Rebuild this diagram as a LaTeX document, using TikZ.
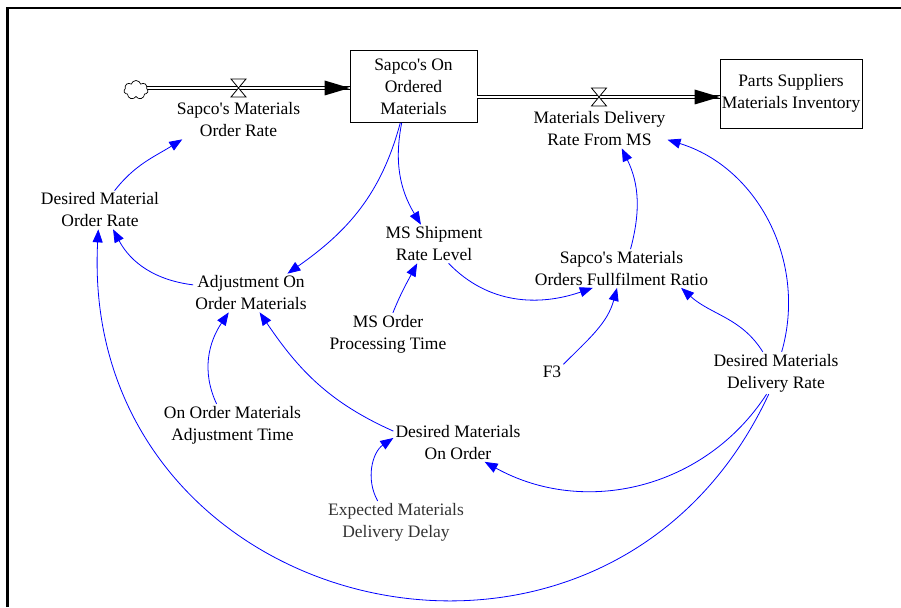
\documentclass[tikz,border=0pt]{standalone}
\usepackage{fontspec}
\setmainfont{Liberation Serif}
\usetikzlibrary{arrows.meta,shapes.symbols}
\begin{document}
\begin{tikzpicture}[x=1pt,y=1pt,
 lbl/.style={align=center, font=\fontsize{17.5}{22}\selectfont, inner sep=2pt},
 stock/.style={draw, line width=0.8pt, align=center, font=\fontsize{17.5}{22}\selectfont, inner sep=1pt},
 link/.style={blue, line width=0.8pt, -{Triangle[length=13pt,width=10pt]}},
 pipe/.style={draw, line width=1pt, double=white, double distance=2.6pt},
 valve/.style={draw, line width=0.8pt, fill=white},
 flowhead/.style={fill=black},
]
\useasboundingbox (0,0) rectangle (901,-607);
\draw[line width=2.5pt] (7.5,-607) -- (7.5,-8) -- (901,-8);

% stocks and cloud
\node[stock, minimum width=127pt, minimum height=72pt] (box1) at (413.5,-86.5) {Sapco\textquotesingle s On\\Ordered\\Materials};
\node[stock, minimum width=142pt, minimum height=69pt] (box2) at (791,-93.5) {Parts Suppliers\\Materials Inventory};
\coordinate (v1) at (238.5,-88);
\coordinate (v2) at (599,-97);

% variables
\node[lbl] (r1) at (238.5,-120) {Sapco\textquotesingle s Materials\\Order Rate};
\node[lbl] (r2) at (599.5,-129) {Materials Delivery\\Rate From MS};
\node[lbl] (dmor) at (100,-210) {Desired Material\\Order Rate};
\node[lbl] (aoom) at (251,-293) {Adjustment On\\Order Materials};
\node[lbl] (msr) at (434,-244) {MS Shipment\\Rate Level};
\node[lbl] (sfr) at (621.5,-268.5) {Sapco\textquotesingle s Materials\\Orders Fullfilment Ratio};
\node[lbl] (mspt) at (388,-334) {MS Order\\Processing Time};
\node[lbl] (f3) at (552,-372) {F3};
\node[lbl] (dmdr) at (776,-373) {Desired Materials\\Delivery Rate};
\node[lbl] (oomat) at (232.5,-425) {On Order Materials\\Adjustment Time};
\node[lbl] (dmoo) at (458,-442.5) {Desired Materials\\On Order};
\node[lbl, text=black!80] (emdd) at (396,-522) {Expected Materials\\Delivery Delay};

% flows
\draw[pipe] (136,-88) -- (v1) -- (box1.west |- v1);
\node[cloud, draw, fill=white, cloud puffs=7, minimum width=24pt, minimum height=19pt, inner sep=0pt, line width=0.7pt] (cloud) at (136,-90) {};
\fill[flowhead] (box1.west |- v1) -- ++(-25,7.5) -- ++(0,-15) -- cycle;
\draw[valve, shift={(v1)}] (-7.5,9) -- (7.5,9) -- (-7.5,-9) -- (7.5,-9) -- cycle;

\draw[pipe] (box1.east |- v2) -- (v2) -- (box2.west |- v2);
\fill[flowhead] (box2.west |- v2) -- ++(-25,7.5) -- ++(0,-15) -- cycle;
\draw[valve, shift={(v2)}] (-7.5,9) -- (7.5,9) -- (-7.5,-9) -- (7.5,-9) -- cycle;

% links
\draw[link] (dmor.53) to[out=52,in=-148] (r1.199);
\draw[link] (box1.-110) to[out=-105,in=35] (aoom.28);
\draw[link] (box1.-108) to[out=-101,in=121] (msr.124);
\draw[link] (aoom.172) to[out=173,in=-62] (dmor.-56);
\draw[link] (mspt.77) to[out=68,in=-118] (msr.-131);
\draw[link] (msr.-53) to[out=-46,in=199] (sfr.-146);
\draw[link] (sfr.65) to[out=75,in=-64] (r2.-41);
\draw[link] (f3.34) to[out=45,in=-105] (sfr.-103);
\draw[link] (dmdr.122) to[out=122,in=-42] (sfr.-18);
\draw[link] (dmdr.75) to[out=74,in=-17] (r2.-9);
\draw[link] (oomat.127) to[out=115,in=-124] (aoom.-139);
\draw[link] (dmoo.170) to[out=156,in=-56] (aoom.-66);
\draw[link] (emdd.131) to[out=119,in=-146] (dmoo.176);
\draw[link] (dmdr.-114) to[out=-123,in=-29] (dmoo.-36);
\draw[link] (dmdr.-109) to[out=-115,in=-93,looseness=1.44] (dmor.-95);
\end{tikzpicture}
\end{document}
